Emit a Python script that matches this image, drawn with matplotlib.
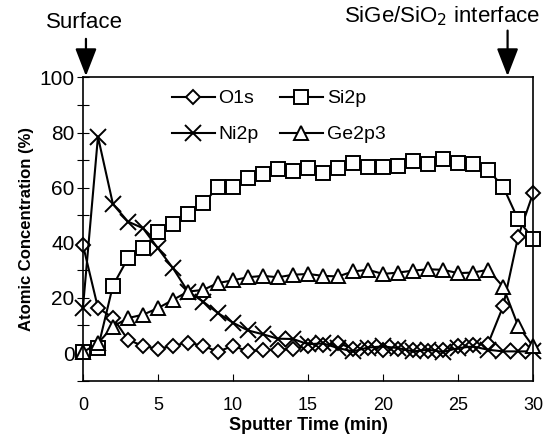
import numpy as np
import matplotlib
matplotlib.use("Agg")
import matplotlib.pyplot as plt

plt.rcParams['font.family'] = ['Liberation Sans', 'DejaVu Sans']

# Tiempo de sputter (min)
t = np.arange(0, 31)

o1s = [39.2, 16.4, 12.8, 4.8, 2.6, 1.5, 2.6, 3.8, 2.6, 0.5, 2.6, 0.6, 1.2, 1.2, 1.5,
       2.5, 2.8, 3.7, 1.5, 1.8, 1.2, 1.5, 1.0, 0.8, 1.2, 2.4, 3.0, 3.4, 16.9, 42.2, 58.0]
si2p = [0.4, 1.8, 24.5, 34.4, 38.0, 44.0, 46.8, 50.5, 54.3, 60.1, 60.1, 63.4, 64.9, 66.7, 66.2,
        67.0, 65.2, 67.2, 68.8, 67.6, 67.4, 68.0, 69.8, 68.5, 70.4, 68.8, 68.5, 66.4, 60.4, 48.5, 41.3]
ni2p = [16.5, 78.5, 54.0, 47.7, 45.3, 38.0, 30.8, 22.3, 18.7, 14.5, 11.0, 8.2, 6.8, 5.2, 5.1,
        3.2, 3.5, 1.8, 0.6, 2.0, 2.4, 1.8, 0.6, 1.2, 0.4, 1.8, 2.4, 1.2, 0.6, 0.6, 0.6]
ge2p3 = [0.3, 3.6, 9.6, 12.7, 13.9, 16.3, 19.3, 22.3, 22.9, 25.4, 26.4, 27.5, 28.0, 27.5, 28.4,
         28.7, 28.0, 27.8, 29.6, 30.2, 28.7, 29.2, 29.9, 30.4, 30.2, 29.0, 29.2, 30.2, 24.1, 9.9, 2.4]

fig = plt.figure(figsize=(5.53, 4.4), dpi=100)
ax = fig.add_axes([0.150, 0.135, 0.814, 0.689])

estilo = dict(color="black", linewidth=1.5, markerfacecolor="white",
              markeredgecolor="black", markeredgewidth=1.4, clip_on=False)
l_o, = ax.plot(t, o1s, marker="D", markersize=7.5, label="O1s", **estilo)
l_si, = ax.plot(t, si2p, marker="s", markersize=9.5, label="Si2p", **estilo)
l_ni, = ax.plot(t, ni2p, marker="x", markersize=11, label="Ni2p", **estilo)
l_ge, = ax.plot(t, ge2p3, marker="^", markersize=10, label="Ge2p3", **estilo)

ax.set_xlim(0, 30)
ax.set_ylim(-10, 100)
ax.set_xticks(np.arange(0, 31, 5))
ax.set_yticks(np.arange(-10, 101, 10))
ax.set_yticklabels(["" if v % 20 else str(v) for v in range(-10, 101, 10)])
ax.tick_params(axis="x", direction="in", length=5, labelsize=13, pad=12)
ax.tick_params(axis="y", direction="inout", length=8, labelsize=15, pad=2)
for s in ax.spines.values():
    s.set_linewidth(1.2)

ax.set_xlabel("Sputter Time (min)", fontsize=13, fontweight="bold", labelpad=2)
ax.set_ylabel("Atomic Concentration (%)", fontsize=12, fontweight="bold", labelpad=4)

# orden por columnas para que las filas queden O1s/Si2p y Ni2p/Ge2p3
ax.legend([l_o, l_ni, l_si, l_ge], ["O1s", "Ni2p", "Si2p", "Ge2p3"],
          loc="upper left", bbox_to_anchor=(0.18, 0.985), ncol=2, frameon=False,
          fontsize=14, handlelength=2.2, columnspacing=1.1, labelspacing=0.95,
          handletextpad=0.2, borderaxespad=0)

# Flechas de superficie e interfaz
flecha = dict(arrowstyle="-|>,head_length=0.85,head_width=0.33", color="black",
              lw=1.6, mutation_scale=20, shrinkA=0, shrinkB=0)
ax.text(0.1, 117.8, "Surface", ha="center", va="baseline", fontsize=16)
ax.annotate("", xy=(0.2, 100.5), xytext=(0.2, 114), annotation_clip=False,
            arrowprops=flecha)
ax.text(23.9, 120, "SiGe/SiO$_2$ interface", ha="center", va="baseline", fontsize=16)
ax.annotate("", xy=(28.3, 100.5), xytext=(28.3, 117), annotation_clip=False,
            arrowprops=flecha)

fig.savefig("out.png", dpi=100)
